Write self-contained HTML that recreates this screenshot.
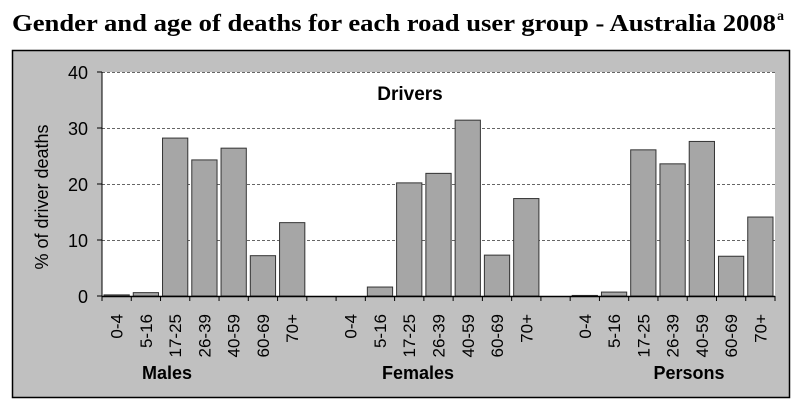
<!DOCTYPE html>
<html><head><meta charset="utf-8"><style>
body{margin:0;width:806px;height:406px;background:#fff;overflow:hidden}
</style></head><body>
<svg width="806" height="406" xmlns="http://www.w3.org/2000/svg" font-family="Liberation Sans, sans-serif">
<text x="12" y="31" font-family="Liberation Serif, serif" font-weight="bold" font-size="24" textLength="764" lengthAdjust="spacingAndGlyphs">Gender and age of deaths for each road user group - Australia 2008</text>
<text x="777" y="20" font-family="Liberation Serif, serif" font-weight="bold" font-size="14">a</text>
<rect x="12.5" y="50.5" width="777" height="347" fill="#c0c0c0" stroke="#000" stroke-width="1.5"/>
<rect x="102" y="72" width="673" height="224" fill="#fff"/>
<g stroke="#666" stroke-dasharray="3,2" stroke-width="1">
<line x1="102" y1="72.5" x2="775" y2="72.5"/>
<line x1="102" y1="128.5" x2="775" y2="128.5"/>
<line x1="102" y1="184.5" x2="775" y2="184.5"/>
<line x1="102" y1="240.5" x2="775" y2="240.5"/>
</g>
<g id="bars" fill="#a6a6a6" stroke="#333" stroke-width="1"></g>
<line x1="102" y1="72" x2="102" y2="296" stroke="#000"/>
<line x1="102" y1="296.5" x2="775" y2="296.5" stroke="#000" stroke-width="1.5"/>
<g font-size="18" text-anchor="end" fill="#000">
<text x="88" y="79">40</text><text x="88" y="135">30</text><text x="88" y="191">20</text><text x="88" y="247">10</text><text x="88" y="303">0</text>
</g>
<g stroke="#000"><line x1="97" y1="72" x2="102" y2="72"/><line x1="97" y1="128" x2="102" y2="128"/><line x1="97" y1="184" x2="102" y2="184"/><line x1="97" y1="240" x2="102" y2="240"/><line x1="97" y1="296" x2="102" y2="296"/></g>
<text transform="translate(48,197) rotate(-90)" font-size="18" text-anchor="middle">%  of driver deaths</text>
<text x="410" y="100" font-size="19" font-weight="bold" text-anchor="middle">Drivers</text>
<g id="ticks" stroke="#000"></g>
<g id="labels" font-size="17"></g>
<g font-size="18" font-weight="bold" text-anchor="middle">
<text x="167" y="379">Males</text><text x="418" y="379">Females</text><text x="689" y="379">Persons</text>
</g>
<script>
var d=[0.2,0.6,28.2,24.3,26.4,7.2,13.1,null,0,1.6,20.2,21.9,31.4,7.3,17.4,null,0.1,0.7,26.1,23.6,27.6,7.1,14.1];
var L=["0-4","5-16","17-25","26-39","40-59","60-69","70+"];
var w=673/23,ns="http://www.w3.org/2000/svg",b=document.getElementById("bars"),t=document.getElementById("ticks"),lb=document.getElementById("labels");
for(var i=0;i<=23;i++){var x=102+i*w;var l=document.createElementNS(ns,"line");l.setAttribute("x1",x);l.setAttribute("x2",x);l.setAttribute("y1",296);l.setAttribute("y2",301);t.appendChild(l);}
for(var i=0;i<23;i++){if(d[i]===null)continue;var x=102+i*w,h=d[i]*5.6;
if(h>0){var r=document.createElementNS(ns,"rect");r.setAttribute("x",x+2);r.setAttribute("width",w-4);r.setAttribute("y",296-h);r.setAttribute("height",h);b.appendChild(r);}
var tx=document.createElementNS(ns,"text");var cx=x+w/2+6;tx.setAttribute("transform","translate("+cx+",314) rotate(-90)");tx.setAttribute("text-anchor","end");tx.textContent=L[i%8];lb.appendChild(tx);}
</script>
</svg>
</body></html>
